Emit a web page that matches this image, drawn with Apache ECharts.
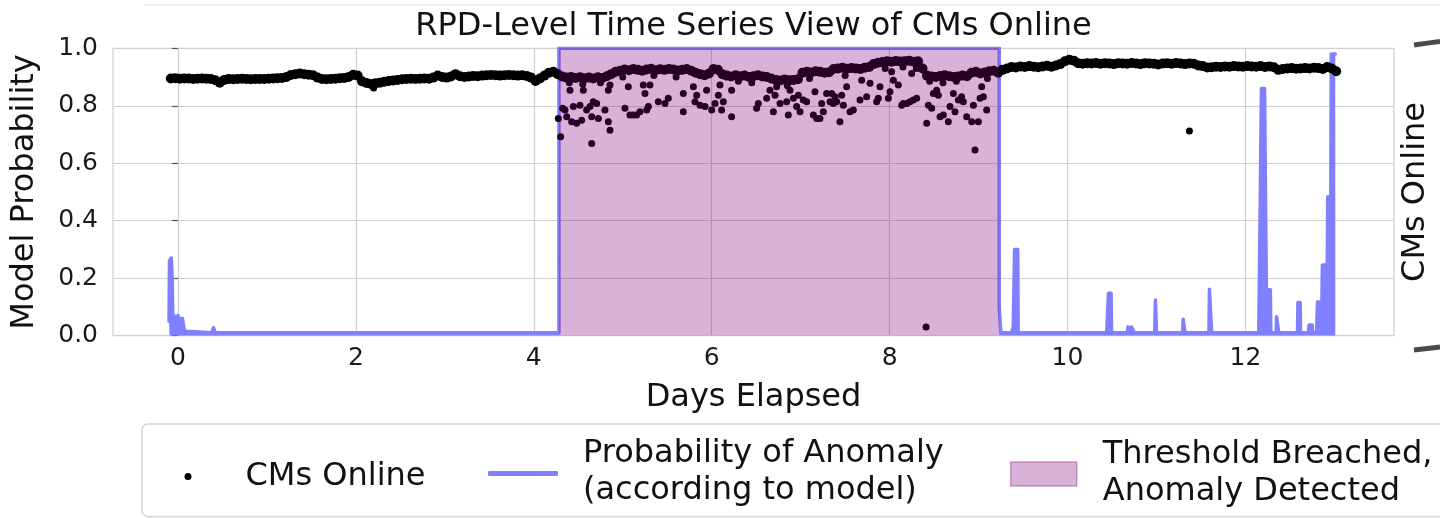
<!DOCTYPE html>
<html><head><meta charset="utf-8">
<script src="https://cdn.jsdelivr.net/npm/echarts@6/dist/echarts.min.js"></script>
<style>html,body{margin:0;padding:0;background:#fff}#c{width:1440px;height:518px}</style>
</head><body><div id="c"></div>
<script>
// ---------------- data ----------------
const titleText = 'RPD-Level Time Series View of CMs Online';
const xName = 'Days Elapsed';
const yName = 'Model Probability';
const y2Name = 'CMs Online';
const xTicks = [0, 2, 4, 6, 8, 10, 12];
const nameCms = 'CMs Online';
const nameProb = 'Probability of Anomaly\n(according to model)';
const nameShade = 'Threshold Breached,\nAnomaly Detected';

// CMs Online: regularly sampled band (start day, step in days, values)
const cmsStart = -0.08;
const cmsStep = 0.05;
const cmsBand = [
  .895,.896,.894,.895,.895,.893,.894,.895,.894,.893,.889,.880,.890,.893,.892,.893,.894,.893,.892,.893,
  .893,.893,.894,.895,.896,.897,.900,.907,.910,.912,.910,.908,.906,.898,.893,.892,.893,.894,.896,.897,
  .900,.908,.905,.885,.879,.876,.878,.880,.884,.886,.888,.890,.892,.893,.894,.893,.894,.895,.894,.898,
  .905,.900,.898,.902,.910,.903,.900,.902,.904,.903,.905,.906,.907,.906,.905,.906,.907,.906,.905,.906,
  .904,.898,.886,.895,.905,.915,.918,.910,.902,.898,.900,.897,.899,.896,.898,.895,.899,.897,.903,.910,
  .918,.922,.926,.924,.928,.925,.922,.926,.929,.924,.927,.925,.928,.926,.923,.925,.928,.922,.915,.910,
  .906,.912,.928,.925,.910,.905,.902,.906,.903,.905,.900,.903,.906,.902,.900,.895,.890,.888,.891,.889,
  .890,.892,.915,.918,.916,.920,.918,.915,.917,.928,.930,.932,.929,.931,.930,.928,.932,.935,.945,.950,
  .952,.955,.953,.956,.954,.955,.957,.953,.955,.930,.905,.902,.900,.904,.906,.903,.900,.902,.905,.903,
  .915,.918,.912,.916,.920,.922,.915,.925,.930,.935,.933,.937,.935,.938,.936,.934,.937,.939,.936,.940,
  .945,.955,.960,.957,.948,.946,.948,.947,.949,.946,.948,.947,.945,.948,.947,.946,.949,.947,.945,.948,
  .947,.946,.944,.947,.948,.946,.949,.947,.945,.947,.946,.940,.938,.933,.934,.936,.935,.937,.936,.938,
  .937,.936,.938,.937,.936,.938,.935,.937,.934,.925,.928,.930,.931,.929,.930,.931,.930,.932,.931,.928,
  .935,.930,.920
];
// CMs Online: scattered readings [day, value]
const cmsScatter = [
  [2.2,0.862],
  [4.276,0.756],[4.302,0.692],[4.325,0.791],[4.351,0.785],[4.370,0.762],[4.407,0.854],[4.426,0.744],[4.445,0.797],
  [4.482,0.739],[4.519,0.802],[4.538,0.750],[4.557,0.854],[4.594,0.785],[4.632,0.797],[4.651,0.762],[4.651,0.669],
  [4.669,0.814],[4.707,0.808],[4.726,0.756],[4.800,0.785],[4.838,0.744],[4.857,0.715],[4.838,0.854],[4.857,0.872],
  [5.025,0.791],[5.063,0.866],[5.081,0.768],[5.119,0.768],[5.156,0.768],[5.194,0.779],[5.231,0.872],[5.250,0.843],
  [5.269,0.785],[5.288,0.797],[5.306,0.872],[5.400,0.814],[5.475,0.808],[5.512,0.826],[5.681,0.843],[5.681,0.779],
  [5.794,0.866],[5.812,0.814],[5.831,0.837],[5.869,0.802],[5.925,0.797],[5.943,0.854],[6.000,0.785],[6.037,0.808],
  [6.075,0.837],[6.093,0.872],[6.112,0.785],[6.131,0.814],[6.224,0.854],[6.224,0.762],
  [6.505,0.791],[6.524,0.808],[6.618,0.826],[6.655,0.854],[6.693,0.779],[6.712,0.837],[6.730,0.866],[6.768,0.808],
  [6.843,0.814],[6.861,0.768],[6.880,0.854],[6.918,0.826],[6.955,0.797],[6.974,0.837],[6.993,0.779],[7.030,0.820],
  [7.068,0.814],[7.143,0.768],[7.161,0.849],[7.180,0.756],[7.217,0.756],[7.236,0.808],[7.255,0.779],[7.292,0.843],
  [7.330,0.814],[7.349,0.843],[7.367,0.808],[7.386,0.831],[7.405,0.814],[7.442,0.744],[7.461,0.837],[7.480,0.802],
  [7.517,0.866],[7.555,0.779],[7.592,0.785],[7.667,0.820],[7.686,0.889],[7.742,0.831],[7.780,0.878],[7.854,0.814],
  [7.873,0.826],[7.892,0.866],[7.986,0.826],[8.004,0.849],[8.023,0.918],[8.042,0.889],[8.098,0.872],[8.136,0.802],
  [8.154,0.808],[8.192,0.808],[8.229,0.814],[8.248,0.912],[8.267,0.820],[8.304,0.826],
  [8.417,0.739],[8.436,0.802],[8.473,0.791],[8.492,0.843],[8.529,0.854],[8.548,0.837],[8.567,0.762],[8.604,0.768],
  [8.660,0.744],[8.679,0.797],[8.717,0.843],[8.735,0.779],[8.773,0.820],[8.810,0.831],[8.829,0.814],[8.866,0.762],
  [8.923,0.744],[8.942,0.802],[8.960,0.646],[8.998,0.744],[9.017,0.826],[9.035,0.866],[9.054,0.831],[9.091,0.785],
  [4.40,0.880],[4.55,0.875],[4.75,0.880],[5.00,0.900],[5.35,0.905],[5.60,0.900],[6.30,0.885],[6.45,0.880],
  [6.85,0.870],[7.10,0.895],[7.50,0.905],[7.95,0.930],[8.15,0.935],[8.30,0.930],[8.45,0.885],[8.60,0.880],
  [8.75,0.885],[9.10,0.895],
  [8.41,0.030],[11.37,0.712]
];

// Probability of anomaly [day, probability]
const probBefore = [
  [-0.10,0.05],[-0.095,0.26],[-0.075,0.27],[-0.065,0.20],[-0.06,0.10],[-0.055,0.03],[-0.045,0.07],[-0.03,0.075],
  [-0.015,0.05],[0.0,0.07],[0.015,0.065],[0.03,0.05],[0.05,0.06],[0.065,0.03],[0.08,0.015],[0.10,0.01],
  [0.38,0.01],[0.40,0.028],[0.42,0.01],[2.98,0.01],[3.0,0.014],[3.02,0.01],[4.283,0.01],[4.283,1.0]
];
const probDuring = [[4.283,1.0],[9.233,1.0]];
const probAfter = [
  [9.233,1.0],[9.233,0.10],[9.245,0.10],[9.25,0.01],[9.37,0.01],[9.39,0.03],[9.405,0.30],[9.44,0.30],[9.445,0.01],
  [10.44,0.01],[10.445,0.04],[10.455,0.04],[10.46,0.147],[10.49,0.147],[10.495,0.01],
  [10.67,0.01],[10.68,0.03],[10.70,0.02],[10.72,0.03],[10.75,0.01],
  [10.98,0.01],[10.988,0.124],[10.996,0.124],[11.0,0.01],
  [11.295,0.01],[11.30,0.057],[11.315,0.057],[11.32,0.01],
  [11.59,0.01],[11.595,0.161],[11.615,0.161],[11.62,0.01],
  [12.15,0.01],[12.16,0.29],[12.175,0.29],[12.18,0.86],[12.215,0.86],[12.22,0.67],[12.23,0.67],[12.235,0.16],
  [12.28,0.16],[12.285,0.01],[12.345,0.01],[12.35,0.066],[12.37,0.066],[12.375,0.01],
  [12.585,0.01],[12.59,0.115],[12.615,0.115],[12.62,0.01],
  [12.71,0.01],[12.715,0.037],[12.75,0.037],[12.755,0.01],
  [12.80,0.01],[12.81,0.117],[12.86,0.117],[12.865,0.246],[12.92,0.246],[12.925,0.483],[12.96,0.483],[12.965,0.98],[13.01,0.98]
];
const anomalyWindow = [4.283, 9.233];

// ---------------- chart ----------------
const FONT = 'DejaVu Sans';
const BLUE = '#7f7fff';
const SHADE = 'rgba(128,0,128,0.3)';
const bandData = cmsBand.map((v, i) => [cmsStart + i * cmsStep, v]);

const probLine = (name, data, area) => ({
  name, type: 'line', data, symbol: 'none', showSymbol: false, animation: false, z: 2,
  lineStyle: { color: BLUE, width: 3.5, cap: 'round', join: 'round' },
  itemStyle: { color: BLUE },
  areaStyle: area ? { color: BLUE, opacity: 1 } : undefined
});

function richFmt(name) {
  const lines = name.split('\n');
  return lines.map((s, i) => (i === lines.length - 1 && lines.length > 1 ? '{b|' : '{a|') + s + '}').join('\n');
}

const chart = echarts.init(document.getElementById('c'), null, { renderer: 'canvas' });
chart.setOption({
  animation: false,
  backgroundColor: '#fff',
  textStyle: { fontFamily: FONT },
  title: {
    text: titleText, left: 753.5, top: 11, padding: 0, textAlign: 'center',
    textStyle: { fontFamily: FONT, fontSize: 32, fontWeight: 'normal', color: '#111' }
  },
  grid: {
    left: 113, right: 46, top: 48.3, height: 287.3, show: true, outerBoundsMode: 'none', containLabel: false,
    borderColor: '#cfcfcf', borderWidth: 1.2, backgroundColor: 'transparent'
  },
  xAxis: {
    type: 'value', min: -0.73, max: 13.67,
    name: xName, nameLocation: 'middle', nameGap: 46,
    nameTextStyle: { fontFamily: FONT, fontSize: 32, color: '#111' },
    axisLine: { show: false },
    axisTick: { show: false, customValues: xTicks },
    axisLabel: { customValues: xTicks, fontFamily: FONT, fontSize: 25, color: '#1a1a1a', margin: 10 },
    splitLine: { show: true, lineStyle: { color: '#cfcfcf', width: 1.2 } }
  },
  yAxis: [{
    type: 'value', min: 0, max: 1, interval: 0.2,
    name: yName, nameLocation: 'middle', nameGap: 72, nameRotate: 90,
    nameTextStyle: { fontFamily: FONT, fontSize: 32, color: '#111' },
    axisLine: { show: false },
    axisTick: { show: true, length: 6, lineStyle: { color: '#555', width: 1.2 } },
    axisLabel: { formatter: v => v.toFixed(1), fontFamily: FONT, fontSize: 25, color: '#1a1a1a', margin: 15 },
    splitLine: { show: true, lineStyle: { color: '#cfcfcf', width: 1.2 } }
  }, {
    type: 'value', min: 0, max: 1, position: 'right',
    name: y2Name, nameLocation: 'middle', nameGap: 6, nameRotate: 90,
    nameTextStyle: { fontFamily: FONT, fontSize: 32, color: '#111' },
    axisLine: { show: false }, axisTick: { show: false }, axisLabel: { show: false }, splitLine: { show: false }
  }],
  legend: [{
    data: [{ name: nameCms, icon: 'circle', itemStyle: { color: '#000' } }],
    left: 184.5, top: 460.5, padding: 0, itemWidth: 7, itemHeight: 7, selectedMode: false,
    formatter: richFmt,
    textStyle: { rich: { a: { fontFamily: FONT, fontSize: 32, color: '#111', lineHeight: 39, padding: [0, 0, 0, 49] } } }
  }, {
    data: [{ name: nameProb, icon: 'roundRect', itemStyle: { color: BLUE } }],
    left: 488, top: 437.5, padding: 0, itemWidth: 70, itemHeight: 5, selectedMode: false,
    formatter: richFmt,
    textStyle: { rich: {
      a: { fontFamily: FONT, fontSize: 32, color: '#111', lineHeight: 40, padding: [0, 0, 0, 20] },
      b: { fontFamily: FONT, fontSize: 32, color: '#111', lineHeight: 40, padding: [0, 0, 6, 20] } } }
  }, {
    data: [{ name: nameShade, icon: 'rect', itemStyle: { color: SHADE, borderColor: 'rgba(128,0,128,0.35)', borderWidth: 1.5 } }],
    left: 1010, top: 438.5, padding: 0, itemWidth: 66, itemHeight: 24, selectedMode: false,
    formatter: richFmt,
    textStyle: { rich: {
      a: { fontFamily: FONT, fontSize: 32, color: '#111', lineHeight: 39, padding: [0, 0, 0, 21] },
      b: { fontFamily: FONT, fontSize: 32, color: '#111', lineHeight: 39, padding: [0, 0, 4, 21] } } }
  }],
  graphic: [
    { type: 'line', silent: true, z: 0, shape: { x1: 145, y1: 5, x2: 1440, y2: 5 }, style: { stroke: '#ececec', lineWidth: 1.5 } },
    { type: 'rect', silent: true, z: 0, shape: { x: 142, y: 424, width: 1400, height: 92.5, r: 6 }, style: { fill: '#fff', stroke: '#d6d6d6', lineWidth: 1.5 } },
    { type: 'bezierCurve', silent: true, z: 0, shape: { x1: 1414, y1: 45, cpx1: 1428, cpy1: 43, x2: 1440, y2: 41.5 }, style: { stroke: '#4a4a4a', lineWidth: 5, fill: null } },
    { type: 'bezierCurve', silent: true, z: 0, shape: { x1: 1414, y1: 350, cpx1: 1428, cpy1: 348.5, x2: 1440, y2: 347 }, style: { stroke: '#4a4a4a', lineWidth: 5, fill: null } }
  ],
  series: [
    probLine(nameProb, probBefore, true),
    probLine(nameProb, probDuring, false),
    probLine(nameProb, probAfter, true),
    {
      name: nameCms, type: 'scatter', yAxisIndex: 1, data: bandData, symbol: 'circle', symbolSize: 10,
      itemStyle: { color: '#000', opacity: 1 }, z: 3, animation: false
    },
    {
      name: nameCms, type: 'scatter', yAxisIndex: 1, data: cmsScatter, symbol: 'circle', symbolSize: 7,
      itemStyle: { color: '#000', opacity: 1 }, z: 3, animation: false
    },
    {
      name: nameShade, type: 'line', data: [], z: 4, itemStyle: { color: SHADE },
      markArea: { silent: true, z: 10, itemStyle: { color: SHADE }, data: [[{ xAxis: anomalyWindow[0] }, { xAxis: anomalyWindow[1] }]] }
    }
  ]
});
</script></body></html>
